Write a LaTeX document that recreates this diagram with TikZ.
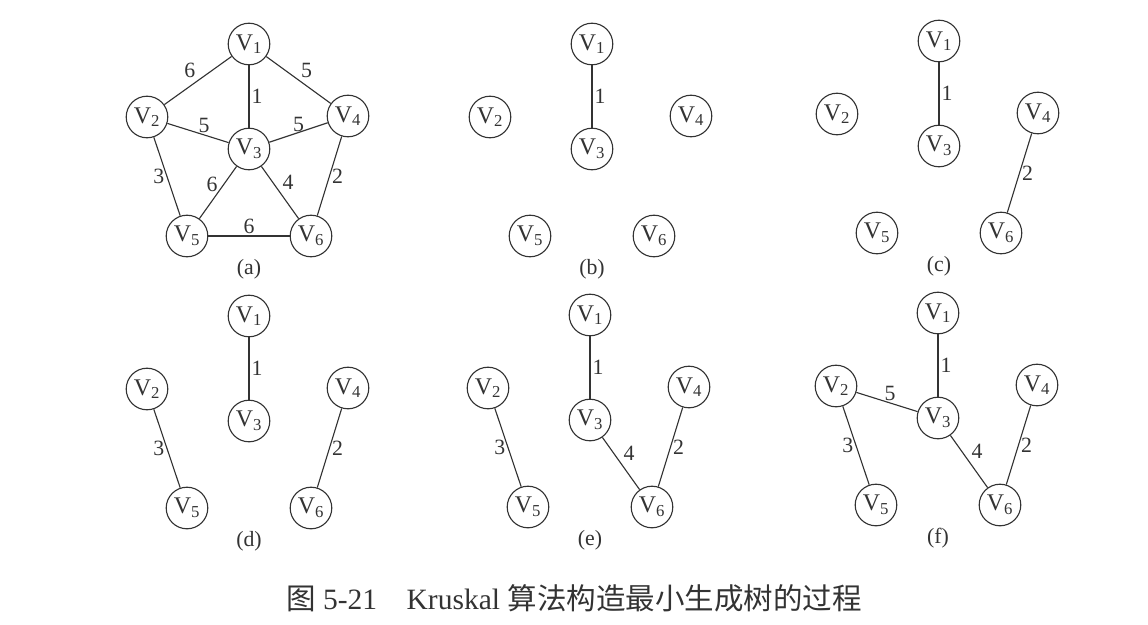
\documentclass[tikz,border=0pt]{standalone}
\usepackage{fontspec}
\setmainfont{Liberation Serif}
\newfontfamily\cjk{Noto Sans CJK SC}
\definecolor{ink}{HTML}{333333}
\tikzset{
  vertex/.style={draw=ink, circle, line width=0.8pt, minimum size=10.4mm, inner sep=0pt, text=ink, font=\fontsize{17}{17}\selectfont},
  edge/.style={draw=ink, line width=0.8pt},
  weight/.style={inner sep=1.5pt, text=ink, font=\fontsize{15.5}{15.5}\selectfont},
  tag/.style={text=ink, font=\fontsize{15.5}{15.5}\selectfont}
}

\begin{document}
\begin{tikzpicture}[x=0.25mm, y=-0.25mm]
  \useasboundingbox (0,0) rectangle (1148,624);

  % same vertex layout in all six panels
  \foreach \p/\x/\y in {a/249/44, b/592/44, c/939/41, d/249/316, e/590/315, f/938/313} {
    \begin{scope}[shift={(\x,\y)}]
      \node[vertex] (\p1) at (0,0) {V\textsubscript{1}};
      \node[vertex] (\p2) at (-102,73) {V\textsubscript{2}};
      \node[vertex] (\p3) at (0,105) {V\textsubscript{3}};
      \node[vertex] (\p4) at (99,72) {V\textsubscript{4}};
      \node[vertex] (\p5) at (-62,192) {V\textsubscript{5}};
      \node[vertex] (\p6) at (62,192) {V\textsubscript{6}};
      \node[tag] (\p0) at (0,225) {(\p)};
    \end{scope}
  }

  % (a) full graph
  \draw[edge] (a1) -- node[weight, above left] {6} (a2);
  \draw[edge] (a1) -- node[weight, right] {1} (a3);
  \draw[edge] (a1) -- node[weight, above right] {5} (a4);
  \draw[edge] (a2) -- node[weight, above, pos=0.6] {5} (a3);
  \draw[edge] (a3) -- node[weight, above, inner sep=0pt] {5} (a4);
  \draw[edge] (a2) -- node[weight, left] {3} (a5);
  \draw[edge] (a3) -- node[weight, above left, inner sep=0pt] {6} (a5);
  \draw[edge] (a3) -- node[weight, above right] {4} (a6);
  \draw[edge] (a4) -- node[weight, right] {2} (a6);
  \draw[edge] (a5) -- node[weight, above] {6} (a6);

  % (b)-(f) edges picked so far
  \foreach \p in {b,c,d,e,f}
    \draw[edge] (\p1) -- node[weight, right] {1} (\p3);
  \foreach \p in {c,d,e,f}
    \draw[edge] (\p4) -- node[weight, right] {2} (\p6);
  \foreach \p in {d,e,f}
    \draw[edge] (\p2) -- node[weight, left] {3} (\p5);
  \foreach \p in {e,f}
    \draw[edge] (\p3) -- node[weight, above right] {4} (\p6);
  \draw[edge] (f2) -- node[weight, above, pos=0.55] {5} (f3);

  \node[text=ink, font=\fontsize{21}{21}\selectfont] (cap) at (574,598)
    {{\cjk 图} 5-21\quad Kruskal {\cjk 算法构造最小生成树的过程}};
\end{tikzpicture}
\end{document}
